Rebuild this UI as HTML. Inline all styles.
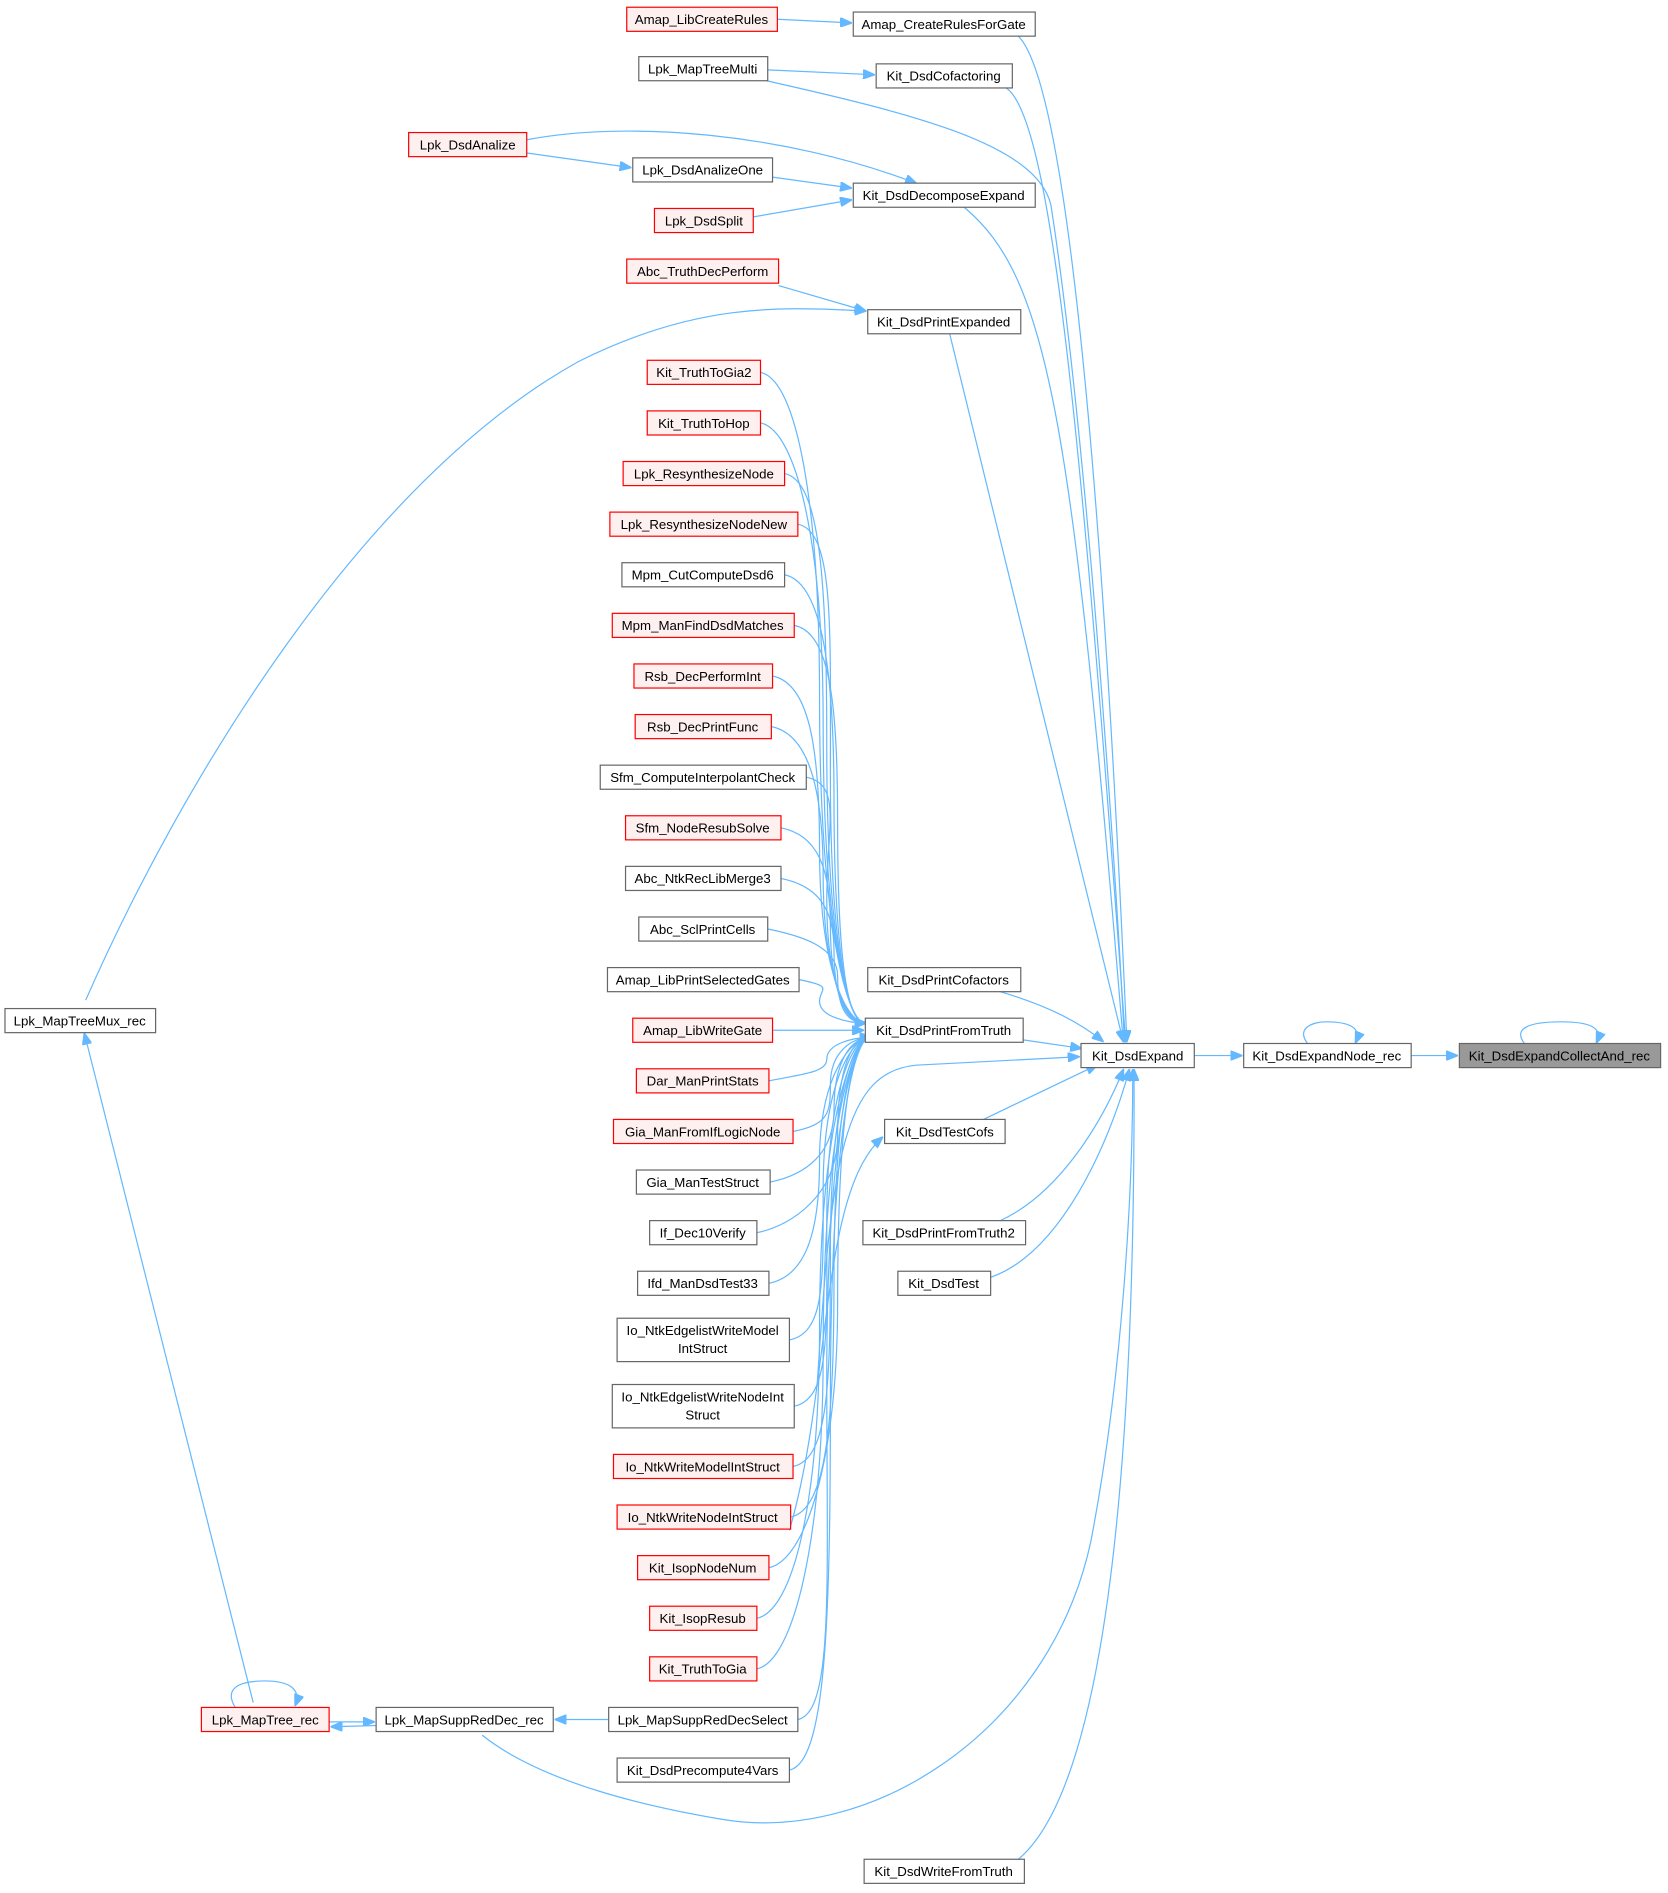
<!DOCTYPE html>
<html><head><meta charset="utf-8"><style>
html,body{margin:0;padding:0;background:#fff;}
svg{display:block;}
text{font-family:"Liberation Sans",Arial,sans-serif;font-size:11px;fill:#000;text-anchor:middle;}
.n rect{fill:#fff;stroke:#666;stroke-width:1;}
.r rect{fill:#fff0f0;stroke:#ff0000;stroke-width:1;}
.g rect{fill:#999;stroke:#666;}
path.e{fill:none;stroke:#63b8ff;stroke-width:1;}
</style></head><body>
<svg width="1668" height="1893" viewBox="0 0 1384 1571" xmlns="http://www.w3.org/2000/svg">
<defs><marker id="a" markerWidth="10" markerHeight="8" refX="9" refY="4" orient="auto" markerUnits="userSpaceOnUse"><path d="M0,0 L10,4 L0,8z" fill="#63b8ff" stroke="#63b8ff"/></marker></defs>
<g id="edges"></g>
<g id="nodes">
<g class="r"><rect x="520" y="6" width="125" height="20"/><text x="582" y="20">Amap_LibCreateRules</text></g>
<g class="n"><rect x="708" y="10" width="151" height="20"/><text x="783" y="24">Amap_CreateRulesForGate</text></g>
<g class="n"><rect x="530" y="47" width="107" height="20"/><text x="583" y="61">Lpk_MapTreeMulti</text></g>
<g class="n"><rect x="727" y="53" width="113" height="20"/><text x="783" y="67">Kit_DsdCofactoring</text></g>
<g class="r"><rect x="339" y="110" width="98" height="20"/><text x="388" y="124">Lpk_DsdAnalize</text></g>
<g class="n"><rect x="525" y="131" width="116" height="20"/><text x="583" y="145">Lpk_DsdAnalizeOne</text></g>
<g class="n"><rect x="708" y="152" width="151" height="20"/><text x="783" y="166">Kit_DsdDecomposeExpand</text></g>
<g class="r"><rect x="543" y="173" width="82" height="20"/><text x="584" y="187">Lpk_DsdSplit</text></g>
<g class="r"><rect x="520" y="215" width="126" height="20"/><text x="583" y="229">Abc_TruthDecPerform</text></g>
<g class="n"><rect x="720" y="257" width="127" height="20"/><text x="783" y="271">Kit_DsdPrintExpanded</text></g>
<g class="r"><rect x="537" y="299" width="94" height="20"/><text x="584" y="313">Kit_TruthToGia2</text></g>
<g class="r"><rect x="537" y="341" width="94" height="20"/><text x="584" y="355">Kit_TruthToHop</text></g>
<g class="r"><rect x="517" y="383" width="134" height="20"/><text x="584" y="397">Lpk_ResynthesizeNode</text></g>
<g class="r"><rect x="506" y="425" width="156" height="20"/><text x="584" y="439">Lpk_ResynthesizeNodeNew</text></g>
<g class="n"><rect x="516" y="467" width="135" height="20"/><text x="583" y="481">Mpm_CutComputeDsd6</text></g>
<g class="r"><rect x="508" y="509" width="151" height="20"/><text x="583" y="523">Mpm_ManFindDsdMatches</text></g>
<g class="r"><rect x="526" y="551" width="115" height="20"/><text x="583" y="565">Rsb_DecPerformInt</text></g>
<g class="r"><rect x="527" y="593" width="113" height="20"/><text x="583" y="607">Rsb_DecPrintFunc</text></g>
<g class="n"><rect x="498" y="635" width="171" height="20"/><text x="583" y="649">Sfm_ComputeInterpolantCheck</text></g>
<g class="r"><rect x="519" y="677" width="129" height="20"/><text x="583" y="691">Sfm_NodeResubSolve</text></g>
<g class="n"><rect x="519" y="719" width="129" height="20"/><text x="583" y="733">Abc_NtkRecLibMerge3</text></g>
<g class="n"><rect x="530" y="761" width="107" height="20"/><text x="583" y="775">Abc_SclPrintCells</text></g>
<g class="n"><rect x="504" y="803" width="159" height="20"/><text x="583" y="817">Amap_LibPrintSelectedGates</text></g>
<g class="r"><rect x="525" y="845" width="116" height="20"/><text x="583" y="859">Amap_LibWriteGate</text></g>
<g class="r"><rect x="528" y="887" width="110" height="20"/><text x="583" y="901">Dar_ManPrintStats</text></g>
<g class="r"><rect x="509" y="929" width="149" height="20"/><text x="583" y="943">Gia_ManFromIfLogicNode</text></g>
<g class="n"><rect x="528" y="971" width="111" height="20"/><text x="583" y="985">Gia_ManTestStruct</text></g>
<g class="n"><rect x="539" y="1013" width="89" height="20"/><text x="583" y="1027">If_Dec10Verify</text></g>
<g class="n"><rect x="529" y="1055" width="109" height="20"/><text x="583" y="1069">Ifd_ManDsdTest33</text></g>
<g class="n"><rect x="512" y="1094" width="143" height="36"/><text x="583" y="1108">Io_NtkEdgelistWriteModel</text><text x="583" y="1123">IntStruct</text></g>
<g class="n"><rect x="508" y="1149" width="151" height="36"/><text x="583" y="1163">Io_NtkEdgelistWriteNodeInt</text><text x="583" y="1178">Struct</text></g>
<g class="r"><rect x="509" y="1207" width="149" height="20"/><text x="583" y="1221">Io_NtkWriteModelIntStruct</text></g>
<g class="r"><rect x="512" y="1249" width="144" height="20"/><text x="583" y="1263">Io_NtkWriteNodeIntStruct</text></g>
<g class="r"><rect x="529" y="1291" width="109" height="20"/><text x="583" y="1305">Kit_IsopNodeNum</text></g>
<g class="r"><rect x="539" y="1333" width="89" height="20"/><text x="583" y="1347">Kit_IsopResub</text></g>
<g class="r"><rect x="539" y="1375" width="89" height="20"/><text x="583" y="1389">Kit_TruthToGia</text></g>
<g class="n"><rect x="505" y="1417" width="157" height="20"/><text x="583" y="1431">Lpk_MapSuppRedDecSelect</text></g>
<g class="n"><rect x="512" y="1459" width="143" height="20"/><text x="583" y="1473">Kit_DsdPrecompute4Vars</text></g>
<g class="n"><rect x="4" y="837" width="125" height="20"/><text x="66" y="851">Lpk_MapTreeMux_rec</text></g>
<g class="r"><rect x="167" y="1417" width="106" height="20"/><text x="220" y="1431">Lpk_MapTree_rec</text></g>
<g class="n"><rect x="312" y="1417" width="147" height="20"/><text x="385" y="1431">Lpk_MapSuppRedDec_rec</text></g>
<g class="n"><rect x="720" y="803" width="127" height="20"/><text x="783" y="817">Kit_DsdPrintCofactors</text></g>
<g class="n"><rect x="718" y="845" width="131" height="20"/><text x="783" y="859">Kit_DsdPrintFromTruth</text></g>
<g class="n"><rect x="734" y="929" width="100" height="20"/><text x="784" y="943">Kit_DsdTestCofs</text></g>
<g class="n"><rect x="716" y="1013" width="135" height="20"/><text x="783" y="1027">Kit_DsdPrintFromTruth2</text></g>
<g class="n"><rect x="745" y="1055" width="77" height="20"/><text x="783" y="1069">Kit_DsdTest</text></g>
<g class="n"><rect x="717" y="1543" width="133" height="20"/><text x="783" y="1557">Kit_DsdWriteFromTruth</text></g>
<g class="n"><rect x="897" y="866" width="94" height="20"/><text x="944" y="880">Kit_DsdExpand</text></g>
<g class="n"><rect x="1032" y="866" width="139" height="20"/><text x="1101" y="880">Kit_DsdExpandNode_rec</text></g>
<g class="g"><rect x="1211" y="866" width="167" height="20"/><text x="1294" y="880">Kit_DsdExpandCollectAnd_rec</text></g>
</g>
</svg>
<script>
var E=[
"M645,16 L706,19","M637,58 L725,62","M437,127 L523,139","M641,147 L706,156","M625,180 L706,166",
"M437,116 C520,100 650,110 760,152","M646,237 L718,258",
"M71,830 C150,650 300,400 480,300 C580,250 650,255 718,258",
"M210,1413 L70,858","M273,1429 L310,1429","M312,1432 L275,1433","M505,1427 L461,1427",
"M195,1417 C185,1400 200,1395 220,1395 C240,1395 250,1402 245,1415",
"M1265,866 C1255,853 1270,848 1295,848 C1320,848 1330,853 1325,865",
"M1085,866 C1075,853 1090,848 1100,848 C1120,848 1130,853 1125,865",
"M991,876 L1030,876","M1171,876 L1209,876",
"M845,30 C885,70 915,400 935,864","M835,73 C875,100 900,400 934,864",
"M636,67 C760,95 860,120 872,170 C900,350 925,700 933,864",
"M800,172 C870,230 890,350 932,864","M788,277 L932,864",
"M830,823 C870,835 895,848 915,864","M849,863 L897,870","M816,929 L910,884",
"M830,1013 C880,990 915,930 932,888","M822,1060 C880,1040 920,950 937,888",
"M845,1543 C920,1480 942,1200 941,888",
"M400,1440 C450,1480 540,1500 600,1510 C720,1530 870,1440 905,1280 C930,1150 940,1000 940,888",
"M678,1150 C690,960 700,890 760,884 L895,877",
"M655,1270 C690,1150 680,990 732,944"
];
var L=[[631,309],[631,351],[651,393],[662,435],[651,477],[659,519],[641,561],[640,603],[669,645],[648,687],[648,729],[637,771],[663,813],[641,855],[638,897],[658,939],[639,981],[628,1023],[638,1065],[655,1112],[659,1167],[658,1217],[656,1259],[638,1301],[628,1343],[628,1385],[662,1427],[655,1469]];
L.forEach(function(p,i){var x=p[0],y=p[1];
 if(y==855){E.push("M"+x+","+y+" L716,855");return;}
 var ty=y<855?849:861, tx=718+(y<855?0:4);
 var bx=680+(i%6)*3;
 E.push("M"+x+","+y+" C"+(x+30)+","+(y+(y<855?6:-6))+" "+bx+","+(y+(ty-y)*0.2)+" "+bx+","+((y+ty)/2)+" C"+bx+","+(ty+(y-ty)*0.15)+" "+(tx-15)+","+ty+" "+tx+","+ty);
});
var g=document.getElementById("edges"),s="";
E.forEach(function(d){s+='<path class="e" marker-end="url(#a)" d="'+d+'"/>';});
g.innerHTML=s;
</script>
</body></html>
